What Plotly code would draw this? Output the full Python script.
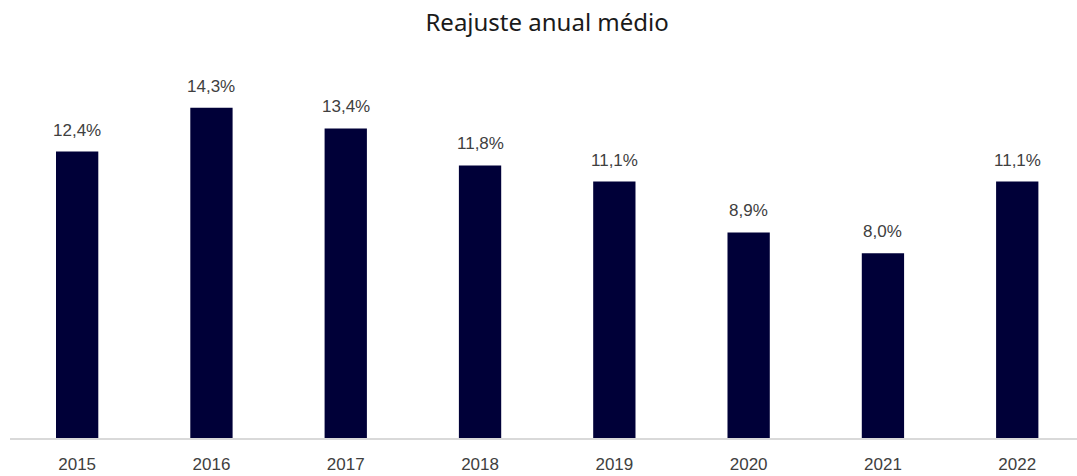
import plotly.graph_objects as go

# Average annual adjustment by year (%)
years = ["2015", "2016", "2017", "2018", "2019", "2020", "2021", "2022"]
values = [12.4, 14.3, 13.4, 11.8, 11.1, 8.9, 8.0, 11.1]

bar_color = "#000038"
label_color = "#404040"

labels = [f"{v:.1f}".replace(".", ",") + "%" for v in values]

fig = go.Figure(
    go.Bar(
        x=years,
        y=values,
        width=0.315,
        marker=dict(color=bar_color, line=dict(width=0)),
        hoverinfo="skip",
    )
)

# value labels above each bar
for i, (v, t) in enumerate(zip(values, labels)):
    fig.add_annotation(
        x=i, y=v, xref="x", yref="y", text=t, showarrow=False,
        yanchor="bottom", yshift=10,
        font=dict(family="Liberation Sans, Arial, sans-serif", size=17, color=label_color),
    )

fig.update_layout(
    width=1077,
    height=476,
    margin=dict(l=10, r=0, t=40, b=38),
    paper_bgcolor="white",
    plot_bgcolor="white",
    showlegend=False,
    title=dict(
        text="Reajuste anual médio",
        x=0.508, xanchor="center",
        y=0.952, yanchor="middle",
        font=dict(family="Noto Sans, sans-serif", size=24, color="#1a1a1a"),
    ),
    xaxis=dict(
        type="category",
        range=[-0.5, 7.445],
        showgrid=False,
        showline=True,
        linecolor="#d9d9d9",
        linewidth=1.5,
        ticks="outside",
        ticklen=10,
        tickcolor="rgba(0,0,0,0)",
        tickfont=dict(family="Liberation Sans, Arial, sans-serif", size=17, color=label_color),
        fixedrange=True,
    ),
    yaxis=dict(
        range=[0, 17.23],
        showticklabels=False,
        showline=False,
        showgrid=False,
        zeroline=False,
        ticks="",
        fixedrange=True,
    ),
)

fig.write_html("out.html")
